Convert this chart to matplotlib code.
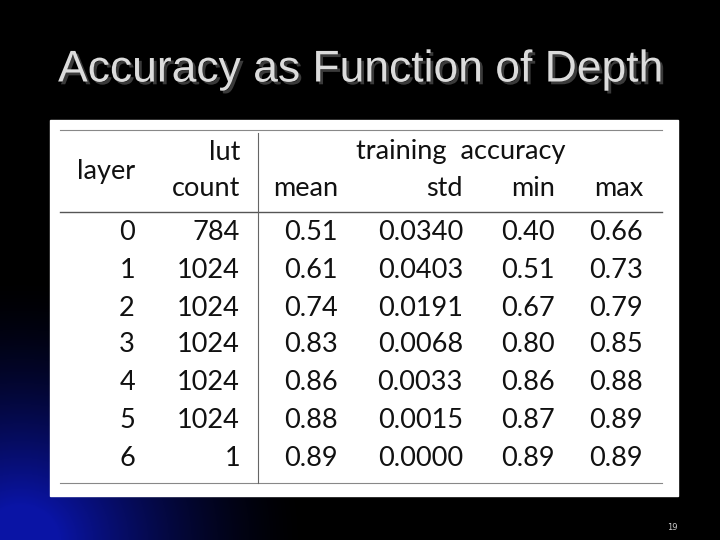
import matplotlib
matplotlib.use("Agg")
import matplotlib.pyplot as plt
import matplotlib.patheffects as pe
import numpy as np

title = "Accuracy as Function of Depth"
layers = ["0", "1", "2", "3", "4", "5", "6"]
lut_count = ["784", "1024", "1024", "1024", "1024", "1024", "1"]
acc_mean = ["0.51", "0.61", "0.74", "0.83", "0.86", "0.88", "0.89"]
acc_std = ["0.0340", "0.0403", "0.0191", "0.0068", "0.0033", "0.0015", "0.0000"]
acc_min = ["0.40", "0.51", "0.67", "0.80", "0.86", "0.87", "0.89"]
acc_max = ["0.66", "0.73", "0.79", "0.85", "0.88", "0.89", "0.89"]
slide_no = "19"

fig = plt.figure(figsize=(7.2, 5.4), dpi=100)
ax = fig.add_axes([0, 0, 1, 1])
ax.set_xlim(0, 720)
ax.set_ylim(540, 0)
ax.axis("off")

# background: black with a blue glow in the lower left
yy, xx = np.mgrid[0:540, 0:720]
d = np.hypot((xx - 20) / 250.0, (yy - 540) / 230.0)
glow = np.clip(1.15 - d, 0, 1) ** 1.6
bg = np.zeros((540, 720, 3))
bg[..., 0] = 0.04 * glow
bg[..., 1] = 0.08 * glow
bg[..., 2] = 0.65 * glow
ax.imshow(bg, extent=(0, 720, 540, 0), zorder=0)

ax.text(361, 70, title, ha="center", va="center", fontsize=32,
        family="Liberation Sans", color="#dcdcdc",
        path_effects=[pe.withSimplePatchShadow(offset=(2, -2), shadow_rgbFace="#3a3a3a", alpha=1)])

# white table panel
ax.add_patch(plt.Rectangle((50, 120), 628, 376, color="white", zorder=1))

fs = 19.5
fam = ["Lato", "DejaVu Sans"]
col = "#111111"
# rules
ax.plot([60, 662], [130, 130], color="#888888", lw=0.8, zorder=2)
ax.plot([60, 662], [212, 212], color="#555555", lw=1.0, zorder=2)
ax.plot([60, 662], [483, 483], color="#888888", lw=0.8, zorder=2)
ax.plot([258, 258], [133, 483], color="#666666", lw=0.8, zorder=2)

ax.text(106, 171, "layer", ha="center", va="center", fontsize=fs, family=fam, color=col, zorder=3)
ax.text(240, 152, "lut", ha="right", va="center", fontsize=fs, family=fam, color=col, zorder=3)
ax.text(240, 189, "count", ha="right", va="center", fontsize=fs, family=fam, color=col, zorder=3)
ax.text(461, 152, "training  accuracy", ha="center", va="center", fontsize=fs, family=fam, color=col, zorder=3)

rights = [135, 240, 338, 463, 555, 643]
for x, h in zip(rights[2:], ["mean", "std", "min", "max"]):
    ax.text(x, 189, h, ha="right", va="center", fontsize=fs, family=fam, color=col, zorder=3)

columns = [layers, lut_count, acc_mean, acc_std, acc_min, acc_max]
row_y = [232, 270, 308, 345, 383, 420, 458]
for x, vals in zip(rights, columns):
    for y, v in zip(row_y, vals):
        ax.text(x, y, v, ha="right", va="center", fontsize=fs, family=fam, color=col, zorder=3)

ax.text(672, 528, slide_no, ha="center", va="center", fontsize=6, color="#cccccc")

fig.savefig("out.png", dpi=100)
